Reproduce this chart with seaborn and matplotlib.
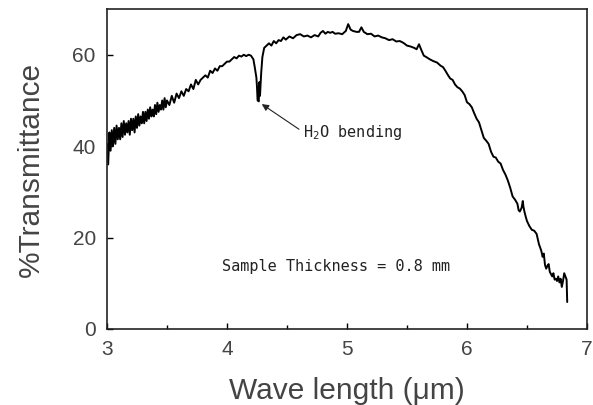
import numpy as np
import pandas as pd
import matplotlib
matplotlib.use("Agg")
import matplotlib.pyplot as plt
import seaborn as sns

# spectrum (wavelength in um, % transmittance)
wavelength = [
    3.00, 3.01, 3.02, 3.03, 3.04, 3.05, 3.06, 3.07, 3.08, 3.09,
    3.10, 3.11, 3.12, 3.13, 3.14, 3.15, 3.16, 3.17, 3.18, 3.19,
    3.20, 3.21, 3.22, 3.23, 3.24, 3.25, 3.26, 3.27, 3.28, 3.29,
    3.30, 3.31, 3.32, 3.33, 3.34, 3.35, 3.36, 3.37, 3.38, 3.39,
    3.40, 3.41, 3.42, 3.43, 3.44, 3.45, 3.46, 3.47, 3.48, 3.49,
    3.50, 3.52, 3.54, 3.56, 3.58, 3.60, 3.62, 3.64, 3.66, 3.68,
    3.70, 3.72, 3.74, 3.76, 3.78, 3.80, 3.82, 3.84, 3.86, 3.88,
    3.90, 3.92, 3.94, 3.96, 3.98, 4.00, 4.02, 4.04, 4.06, 4.08,
    4.10, 4.12, 4.14, 4.16, 4.18, 4.20, 4.22, 4.23, 4.245, 4.25,
    4.255, 4.265, 4.27, 4.275, 4.285, 4.295, 4.31, 4.33, 4.35, 4.37,
    4.39, 4.41, 4.43, 4.45, 4.47, 4.49, 4.52, 4.55, 4.58, 4.61,
    4.64, 4.67, 4.70, 4.73, 4.76, 4.78, 4.80, 4.82, 4.84, 4.86,
    4.88, 4.90, 4.93, 4.96, 4.99, 5.01, 5.03, 5.05, 5.08, 5.10,
    5.12, 5.14, 5.17, 5.20, 5.23, 5.26, 5.29, 5.32, 5.35, 5.38,
    5.41, 5.44, 5.47, 5.50, 5.53, 5.56, 5.58, 5.60, 5.62, 5.64,
    5.66, 5.69, 5.72, 5.75, 5.78, 5.80, 5.82, 5.84, 5.86, 5.88,
    5.90, 5.92, 5.94, 5.96, 5.98, 6.00, 6.02, 6.04, 6.06, 6.08,
    6.10, 6.12, 6.14, 6.16, 6.18, 6.20, 6.22, 6.24, 6.26, 6.28,
    6.30, 6.32, 6.34, 6.36, 6.38, 6.40, 6.42, 6.43, 6.44, 6.455,
    6.465, 6.47, 6.48, 6.49, 6.50, 6.52, 6.54, 6.56, 6.58, 6.60,
    6.61, 6.62, 6.63, 6.64, 6.65, 6.66, 6.67, 6.68, 6.69, 6.70,
    6.71, 6.72, 6.73, 6.74, 6.75, 6.76, 6.77, 6.78, 6.79, 6.80,
    6.81, 6.82, 6.83, 6.835,
]
transmittance = [
    40.5, 36.0, 43.0, 39.0, 43.5, 40.0, 44.0, 40.5, 44.5, 41.5,
    44.0, 41.5, 45.0, 42.0, 45.5, 42.5, 45.0, 43.0, 45.5, 42.5,
    46.0, 43.5, 46.0, 43.0, 46.5, 44.0, 47.0, 44.5, 46.5, 45.0,
    47.5, 45.0, 47.5, 45.5, 48.0, 46.0, 48.5, 46.5, 48.0, 46.5,
    49.0, 47.0, 49.5, 47.5, 49.0, 48.0, 50.0, 48.0, 50.5, 48.5,
    50.0, 49.0, 51.0, 49.5, 51.5, 50.5, 52.0, 51.0, 52.5, 52.0,
    53.5, 52.5, 54.5, 53.5, 54.5, 55.0, 55.5, 55.0, 56.5, 56.0,
    57.0, 56.5, 57.5, 57.5, 58.0, 58.5, 58.5, 59.0, 59.5, 59.2,
    59.8, 59.6, 60.0, 59.7, 60.0, 59.8, 59.0, 57.5, 55.0, 53.0,
    50.0, 49.8, 54.0, 51.0, 56.0, 59.5, 61.5, 62.0, 62.5, 62.0,
    63.0, 62.5, 63.2, 63.0, 63.8, 63.3, 64.0, 63.6, 64.3, 64.5,
    64.0, 64.2, 63.8, 64.3, 64.0, 64.8, 65.2, 64.6, 65.0, 64.8,
    65.0, 64.6, 64.7, 64.5, 65.2, 66.7, 65.5, 65.2, 65.0, 65.0,
    66.0, 65.0, 64.5, 64.6, 64.0, 64.2, 63.8, 63.6, 63.2, 63.4,
    62.9, 63.0, 62.6, 62.0, 61.8, 61.5, 61.2, 62.3, 61.0, 59.8,
    59.5, 59.0, 58.6, 58.3, 57.6, 57.3, 56.5, 55.6, 54.8, 54.5,
    53.5, 52.9, 52.6, 52.0, 51.2, 49.6, 49.2, 48.5, 47.2, 46.0,
    45.2, 43.5, 41.8, 41.2, 40.5, 38.8, 37.7, 37.5, 36.6, 36.2,
    34.8, 33.8, 32.5, 30.9, 29.0, 28.3, 27.4, 26.0, 25.7, 26.5,
    28.0, 26.8, 25.5, 24.5, 23.6, 22.5, 21.7, 21.5, 20.8, 18.5,
    17.8, 17.0, 15.8, 16.5, 14.0, 13.2, 13.8, 14.2, 12.5, 12.0,
    11.5, 12.2, 10.8, 11.0, 10.5, 11.5, 10.2, 11.0, 9.2, 10.5,
    12.2, 11.5, 10.8, 5.9,
]

x_ticks = [3, 4, 5, 6, 7]
y_ticks = [0, 20, 40, 60]

df = pd.DataFrame({"wl": wavelength, "T": transmittance})

sns.set_style("ticks")
plt.rcParams["font.family"] = ["Liberation Sans", "DejaVu Sans"]
plt.rcParams["mathtext.default"] = "regular"

fig = plt.figure(figsize=(5.93, 4.05), dpi=100)
ax = fig.add_axes([0.1804, 0.1877, 0.8095, 0.79])

sns.lineplot(data=df, x="wl", y="T", sort=False, estimator=None,
             color="black", linewidth=1.4, ax=ax)

ax.set_xlim(3, 7)
ax.set_ylim(0, 70)
ax.set_xticks(x_ticks)
ax.set_yticks(y_ticks)
ax.set_xticks([3.5, 4.5, 5.5, 6.5], minor=True)
ax.tick_params(which="both", direction="in", top=False, right=False,
               colors="black", labelcolor="#444444", labelsize=15, width=1.0)
ax.tick_params(which="major", length=4, pad=8)
ax.tick_params(which="minor", length=3)
for s in ax.spines.values():
    s.set_visible(True)
    s.set_linewidth(1.2)
    s.set_color("#222222")

ax.set_xlabel("Wave length (\u03bcm)", fontsize=21.5, color="#444444", labelpad=13)
ax.set_ylabel("%Transmittance", fontsize=21.5, color="#444444", labelpad=20)

mono = "DejaVu Sans Mono"
ax.text(3.96, 13.6, "Sample Thickness = 0.8 mm", family=mono, fontsize=11,
        color="#222222", ha="left", va="center")
ax.text(4.63, 43.0, "H$_2$O bending", family=mono, fontsize=11,
        color="#222222", ha="left", va="center")
ax.annotate("", xy=(4.29, 49.2), xytext=(4.6, 43.7),
            arrowprops=dict(arrowstyle="-|>", lw=0.8, color="#222222",
                            mutation_scale=10, shrinkA=0, shrinkB=0))

fig.savefig("out.png", dpi=100)
